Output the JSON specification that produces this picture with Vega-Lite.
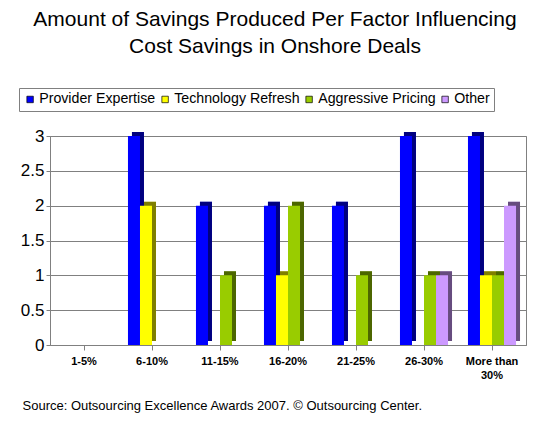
{
  "$schema": "https://vega.github.io/schema/vega-lite/v6.json",
  "width": 476,
  "height": 209,
  "autosize": {"type": "none"},
  "padding": {"left": 50, "top": 136, "right": 24, "bottom": 90},
  "background": "white",
  "config": {"font": "Liberation Sans", "view": {"stroke": "#808080"}},
  "title": {
    "text": ["Amount of Savings Produced Per Factor Influencing", "Cost Savings in Onshore Deals"],
    "fontSize": 21,
    "fontWeight": "normal",
    "font": "Liberation Sans",
    "color": "black",
    "anchor": "middle",
    "frame": "group",
    "dx": -13,
    "offset": 31,
    "lineHeight": 27
  },
  "data": {
    "values": [
      {"range": "1-5%", "factor": "Provider Expertise", "value": 0},
      {"range": "1-5%", "factor": "Technology Refresh", "value": 0},
      {"range": "1-5%", "factor": "Aggressive Pricing", "value": 0},
      {"range": "1-5%", "factor": "Other", "value": 0},
      {"range": "6-10%", "factor": "Provider Expertise", "value": 3},
      {"range": "6-10%", "factor": "Technology Refresh", "value": 2},
      {"range": "6-10%", "factor": "Aggressive Pricing", "value": 0},
      {"range": "6-10%", "factor": "Other", "value": 0},
      {"range": "11-15%", "factor": "Provider Expertise", "value": 2},
      {"range": "11-15%", "factor": "Technology Refresh", "value": 0},
      {"range": "11-15%", "factor": "Aggressive Pricing", "value": 1},
      {"range": "11-15%", "factor": "Other", "value": 0},
      {"range": "16-20%", "factor": "Provider Expertise", "value": 2},
      {"range": "16-20%", "factor": "Technology Refresh", "value": 1},
      {"range": "16-20%", "factor": "Aggressive Pricing", "value": 2},
      {"range": "16-20%", "factor": "Other", "value": 0},
      {"range": "21-25%", "factor": "Provider Expertise", "value": 2},
      {"range": "21-25%", "factor": "Technology Refresh", "value": 0},
      {"range": "21-25%", "factor": "Aggressive Pricing", "value": 1},
      {"range": "21-25%", "factor": "Other", "value": 0},
      {"range": "26-30%", "factor": "Provider Expertise", "value": 3},
      {"range": "26-30%", "factor": "Technology Refresh", "value": 0},
      {"range": "26-30%", "factor": "Aggressive Pricing", "value": 1},
      {"range": "26-30%", "factor": "Other", "value": 1},
      {"range": "More than 30%", "factor": "Provider Expertise", "value": 3},
      {"range": "More than 30%", "factor": "Technology Refresh", "value": 1},
      {"range": "More than 30%", "factor": "Aggressive Pricing", "value": 1},
      {"range": "More than 30%", "factor": "Other", "value": 2}
    ]
  },
  "encoding": {
    "x": {
      "field": "range",
      "type": "nominal",
      "scale": {
        "domain": ["1-5%", "6-10%", "11-15%", "16-20%", "21-25%", "26-30%", "More than 30%"],
        "paddingInner": 0,
        "paddingOuter": 0
      },
      "axis": {
        "labelAngle": 0,
        "labelFont": "Liberation Sans",
        "labelFontSize": 11,
        "labelFontWeight": "bold",
        "labelColor": "black",
        "labelPadding": 5,
        "labelLineHeight": 14,
        "labelExpr": "datum.value == 'More than 30%' ? ['More than', '30%'] : datum.value",
        "domainColor": "#808080",
        "tickColor": "#808080",
        "tickSize": 5,
        "title": "Source: Outsourcing Excellence Awards 2007. © Outsourcing Center.",
        "titleFont": "Liberation Sans",
        "titleFontSize": 13,
        "titleFontWeight": "normal",
        "titleColor": "black",
        "titleAnchor": "start",
        "titleAlign": "left",
        "titleBaseline": "middle",
        "titleX": -28,
        "titleY": 60
      }
    },
    "y": {
      "field": "value",
      "type": "quantitative",
      "scale": {"domain": [0, 3], "nice": false},
      "axis": {
        "values": [0, 0.5, 1, 1.5, 2, 2.5, 3],
        "format": "~g",
        "title": null,
        "labelFont": "Liberation Sans",
        "labelFontSize": 17,
        "labelColor": "black",
        "labelPadding": 2,
        "gridColor": "#808080",
        "domainColor": "#808080",
        "tickColor": "#808080",
        "tickSize": 4
      }
    },
    "color": {
      "field": "factor",
      "type": "nominal",
      "scale": {
        "domain": ["Provider Expertise", "Technology Refresh", "Aggressive Pricing", "Other"],
        "range": ["#0000FF", "#FFFF00", "#99CC00", "#CC99FF"]
      },
      "legend": {
        "title": null,
        "orient": "none",
        "legendX": -31,
        "legendY": -48,
        "direction": "horizontal",
        "strokeColor": "#808080",
        "padding": 4,
        "symbolType": "square",
        "symbolSize": 42,
        "symbolStrokeColor": "black",
        "symbolStrokeWidth": 0.7,
        "labelFont": "Liberation Sans",
        "labelFontSize": 14.2,
        "labelColor": "black",
        "labelOffset": 2,
        "columnPadding": 2,
        "labelLimit": 300
      }
    }
  },
  "layer": [
    {
      "mark": {"type": "rule", "strokeWidth": 4},
      "encoding": {"y": {"datum": 0}, "color": {"value": "#808080"}}
    },
    {
      "transform": [{"filter": "datum.value > 0"}],
      "mark": {"type": "bar", "yOffset": -4, "y2Offset": -4},
      "encoding": {
        "xOffset": {
          "field": "factor",
          "type": "nominal",
          "scale": {
            "domain": ["Provider Expertise", "Technology Refresh", "Aggressive Pricing", "Other"],
            "paddingInner": 0,
            "paddingOuter": 0.83,
            "align": 0.7
          }
        }
      }
    },
    {
      "transform": [{"filter": "datum.value > 0"}],
      "mark": {"type": "bar", "yOffset": -4, "y2Offset": -4, "color": "black", "opacity": 0.5},
      "encoding": {
        "color": {"value": "black"},
        "xOffset": {
          "field": "factor",
          "type": "nominal",
          "scale": {
            "domain": ["Provider Expertise", "Technology Refresh", "Aggressive Pricing", "Other"],
            "paddingInner": 0,
            "paddingOuter": 0.83,
            "align": 0.7
          }
        }
      }
    },
    {
      "transform": [{"filter": "datum.value > 0"}],
      "mark": {"type": "bar"},
      "encoding": {
        "xOffset": {
          "field": "factor",
          "type": "nominal",
          "scale": {
            "domain": ["Provider Expertise", "Technology Refresh", "Aggressive Pricing", "Other"],
            "paddingInner": 0,
            "paddingOuter": 0.83,
            "align": 0.5
          }
        }
      }
    }
  ],
  "resolve": {"scale": {"xOffset": "independent"}}
}
